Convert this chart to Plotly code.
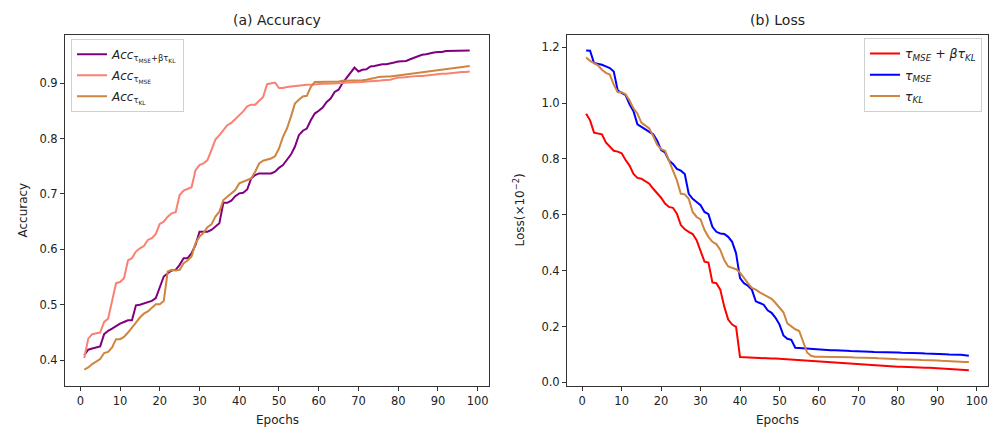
import plotly.graph_objects as go

epochs = list(range(1, 99))

acc_mse_kl = [0.409, 0.419, 0.421, 0.423, 0.425, 0.447, 0.453, 0.457, 0.462, 0.466,
              0.469, 0.472, 0.472, 0.499, 0.500, 0.502, 0.504, 0.507, 0.512, 0.533,
              0.551, 0.557, 0.562, 0.563, 0.572, 0.584, 0.584, 0.593, 0.608, 0.632,
              0.632, 0.632, 0.635, 0.641, 0.647, 0.684, 0.684, 0.688, 0.696, 0.701,
              0.702, 0.708, 0.728, 0.734, 0.737, 0.737, 0.737, 0.737, 0.740, 0.747,
              0.752, 0.761, 0.771, 0.785, 0.806, 0.814, 0.818, 0.833, 0.845, 0.850,
              0.856, 0.866, 0.872, 0.884, 0.888, 0.900, 0.910, 0.919, 0.928, 0.921,
              0.924, 0.925, 0.930, 0.931, 0.933, 0.934, 0.934, 0.935, 0.937, 0.939,
              0.940, 0.940, 0.943, 0.946, 0.949, 0.951, 0.952, 0.954, 0.955, 0.956,
              0.956, 0.958, 0.958, 0.958, 0.958, 0.959, 0.959, 0.959]

acc_mse = [0.404, 0.439, 0.447, 0.448, 0.450, 0.469, 0.475, 0.507, 0.539, 0.541,
           0.548, 0.580, 0.584, 0.596, 0.602, 0.606, 0.617, 0.620, 0.628, 0.646,
           0.650, 0.659, 0.665, 0.667, 0.698, 0.706, 0.709, 0.712, 0.743, 0.752,
           0.755, 0.761, 0.779, 0.798, 0.806, 0.815, 0.824, 0.828, 0.835, 0.843,
           0.849, 0.858, 0.861, 0.861, 0.869, 0.875, 0.898, 0.900, 0.901, 0.891,
           0.891, 0.893, 0.894, 0.895, 0.896, 0.896, 0.897, 0.897, 0.898, 0.898,
           0.899, 0.899, 0.899, 0.900, 0.900, 0.900, 0.901, 0.901, 0.902, 0.902,
           0.902, 0.903, 0.903, 0.904, 0.904, 0.905, 0.905, 0.906, 0.908, 0.910,
           0.910, 0.911, 0.911, 0.912, 0.913, 0.913, 0.914, 0.915, 0.915, 0.916,
           0.917, 0.917, 0.918, 0.918, 0.919, 0.920, 0.920, 0.921]

acc_kl = [0.383, 0.387, 0.393, 0.397, 0.402, 0.413, 0.415, 0.423, 0.438, 0.438,
          0.442, 0.450, 0.460, 0.468, 0.477, 0.484, 0.488, 0.495, 0.501, 0.501,
          0.507, 0.560, 0.563, 0.562, 0.563, 0.575, 0.580, 0.587, 0.611, 0.623,
          0.630, 0.640, 0.645, 0.659, 0.668, 0.689, 0.695, 0.700, 0.707, 0.719,
          0.722, 0.724, 0.728, 0.740, 0.755, 0.760, 0.762, 0.764, 0.768, 0.782,
          0.803, 0.818, 0.839, 0.863, 0.870, 0.876, 0.877, 0.893, 0.902, 0.902,
          0.902, 0.902, 0.903, 0.903, 0.903, 0.904, 0.904, 0.904, 0.905, 0.905,
          0.905, 0.906, 0.907, 0.909, 0.911, 0.912, 0.912, 0.912, 0.913, 0.913,
          0.914, 0.915, 0.916, 0.917, 0.919, 0.919, 0.920, 0.921, 0.922, 0.924,
          0.924, 0.925, 0.927, 0.927, 0.928, 0.929, 0.931, 0.931]

loss_mse_kl = [0.962, 0.938, 0.894, 0.891, 0.888, 0.859, 0.843, 0.829, 0.826, 0.820,
               0.796, 0.776, 0.746, 0.732, 0.729, 0.720, 0.711, 0.693, 0.678, 0.661,
               0.640, 0.628, 0.625, 0.604, 0.563, 0.548, 0.539, 0.531, 0.509, 0.474,
               0.432, 0.429, 0.358, 0.355, 0.332, 0.272, 0.225, 0.207, 0.199, 0.091,
               0.090, 0.090, 0.089, 0.089, 0.088, 0.087, 0.086, 0.085, 0.085, 0.084,
               0.083, 0.082, 0.082, 0.081, 0.080, 0.079, 0.078, 0.077, 0.076, 0.075,
               0.074, 0.073, 0.072, 0.072, 0.071, 0.070, 0.069, 0.067, 0.066, 0.064,
               0.063, 0.063, 0.062, 0.061, 0.060, 0.060, 0.059, 0.058, 0.057, 0.056,
               0.056, 0.055, 0.055, 0.054, 0.053, 0.053, 0.052, 0.052, 0.051, 0.051,
               0.051, 0.050, 0.048, 0.047, 0.046, 0.045, 0.044, 0.043]

loss_mse = [1.188, 1.187, 1.143, 1.140, 1.137, 1.131, 1.125, 1.113, 1.045, 1.036,
            1.028, 0.995, 0.971, 0.924, 0.915, 0.906, 0.900, 0.888, 0.865, 0.832,
            0.823, 0.794, 0.782, 0.764, 0.758, 0.746, 0.675, 0.657, 0.646, 0.634,
            0.610, 0.602, 0.557, 0.539, 0.533, 0.531, 0.521, 0.503, 0.462, 0.373,
            0.355, 0.346, 0.332, 0.290, 0.284, 0.278, 0.258, 0.249, 0.231, 0.207,
            0.168, 0.156, 0.152, 0.124, 0.123, 0.122, 0.121, 0.118, 0.117, 0.116,
            0.116, 0.116, 0.115, 0.115, 0.115, 0.114, 0.113, 0.112, 0.112, 0.111,
            0.111, 0.110, 0.110, 0.109, 0.109, 0.109, 0.108, 0.108, 0.107, 0.107,
            0.106, 0.106, 0.105, 0.105, 0.104, 0.104, 0.103, 0.103, 0.102, 0.102,
            0.101, 0.101, 0.100, 0.100, 0.100, 0.099, 0.097, 0.095]

loss_kl = [1.163, 1.151, 1.143, 1.135, 1.119, 1.108, 1.102, 1.066, 1.039, 1.039,
           1.031, 1.009, 0.981, 0.962, 0.930, 0.918, 0.909, 0.882, 0.851, 0.835,
           0.829, 0.794, 0.758, 0.723, 0.675, 0.673, 0.657, 0.610, 0.592, 0.583,
           0.545, 0.521, 0.503, 0.495, 0.474, 0.438, 0.415, 0.409, 0.405, 0.393,
           0.373, 0.355, 0.338, 0.332, 0.322, 0.314, 0.306, 0.299, 0.284, 0.267,
           0.251, 0.211, 0.201, 0.190, 0.184, 0.148, 0.107, 0.095, 0.092, 0.092,
           0.092, 0.092, 0.091, 0.091, 0.091, 0.090, 0.090, 0.090, 0.089, 0.089,
           0.088, 0.088, 0.088, 0.087, 0.086, 0.086, 0.085, 0.084, 0.084, 0.083,
           0.083, 0.082, 0.082, 0.081, 0.081, 0.080, 0.080, 0.079, 0.079, 0.078,
           0.077, 0.076, 0.075, 0.074, 0.073, 0.073, 0.073, 0.073]

x_ticks = [0, 10, 20, 30, 40, 50, 60, 70, 80, 90, 100]
acc_ticks = [0.4, 0.5, 0.6, 0.7, 0.8, 0.9]
loss_ticks = [0.0, 0.2, 0.4, 0.6, 0.8, 1.0, 1.2]

W, H = 998, 427
OFF = 8  # page body margin
FONT = "DejaVu Sans"
TXT = "#222"


def px(x):
    return (x - OFF) / W


def py(y):
    return 1 - (y - OFF) / H


fig = go.Figure()

lw = 2
specs = [
    (acc_mse_kl, "#800080", "<i>Acc</i><sub>τ<sub>MSE</sub>+βτ<sub>KL</sub></sub>", "x", "y", "legend", "a1"),
    (acc_mse, "#fa8072", "<i>Acc</i><sub>τ<sub>MSE</sub></sub>", "x", "y", "legend", "a2"),
    (acc_kl, "#cd853f", "<i>Acc</i><sub>τ<sub>KL</sub></sub>", "x", "y", "legend", "a3"),
    (loss_mse_kl, "#ff0000", "<i>τ<sub>MSE</sub></i> + <i>βτ<sub>KL</sub></i>", "x2", "y2", "legend2", "b1"),
    (loss_mse, "#0000ff", "<i>τ<sub>MSE</sub></i>", "x2", "y2", "legend2", "b2"),
    (loss_kl, "#cd853f", "<i>τ<sub>KL</sub></i>", "x2", "y2", "legend2", "b3"),
]
for ys, col, name, xa, ya, lg, grp in specs:
    fig.add_trace(go.Scatter(x=epochs, y=ys, mode="lines", line=dict(color=col, width=lw),
                             name=name, xaxis=xa, yaxis=ya, legend=lg, legendgroup=grp))

axis_common = dict(showline=True, linecolor="#333", linewidth=1, mirror=True,
                   ticks="outside", ticklen=4, tickwidth=1, tickcolor="#333",
                   showgrid=False, zeroline=False,
                   tickfont=dict(family=FONT, size=11.5, color=TXT))

fig.update_layout(
    width=W, height=H,
    margin=dict(l=0, r=0, t=0, b=0),
    paper_bgcolor="white", plot_bgcolor="white",
    font=dict(family=FONT, size=11, color=TXT),
    xaxis=dict(domain=[px(65), px(489)], range=[-3.85, 102.85], tickvals=x_ticks,
               anchor="y", **axis_common),
    yaxis=dict(domain=[py(389), py(35)], range=[0.3529, 0.9871], tickvals=acc_ticks,
               tickformat=".1f", anchor="x", **axis_common),
    xaxis2=dict(domain=[px(567), px(988)], range=[-3.85, 102.85], tickvals=x_ticks,
                anchor="y2", **axis_common),
    yaxis2=dict(domain=[py(389), py(35)], range=[-0.0142, 1.2442], tickvals=loss_ticks,
                tickformat=".1f", anchor="x2", **axis_common),
    legend=dict(x=px(71), y=py(39), xanchor="left", yanchor="top",
                bgcolor="rgba(255,255,255,0.8)", bordercolor="#d0d0d0", borderwidth=1,
                font=dict(family=FONT, size=12, color=TXT), tracegroupgap=2,
                itemwidth=30),
    legend2=dict(x=px(982), y=py(38), xanchor="right", yanchor="top",
                 bgcolor="rgba(255,255,255,0.8)", bordercolor="#d0d0d0", borderwidth=1,
                 font=dict(family=FONT, size=12.5, color=TXT), tracegroupgap=2,
                 itemwidth=30),
    annotations=[
        dict(text="(a) Accuracy", x=px(277), y=py(20), xref="paper", yref="paper",
             showarrow=False, font=dict(family=FONT, size=14, color=TXT),
             xanchor="center", yanchor="middle"),
        dict(text="(b) Loss", x=px(777), y=py(20), xref="paper", yref="paper",
             showarrow=False, font=dict(family=FONT, size=14, color=TXT),
             xanchor="center", yanchor="middle"),
        dict(text="Epochs", x=px(277), y=py(414), xref="paper", yref="paper",
             showarrow=False, font=dict(family=FONT, size=12, color=TXT),
             xanchor="center", yanchor="top"),
        dict(text="Epochs", x=px(777), y=py(414), xref="paper", yref="paper",
             showarrow=False, font=dict(family=FONT, size=12, color=TXT),
             xanchor="center", yanchor="top"),
        dict(text="Accuracy", x=px(23), y=py(212), xref="paper", yref="paper",
             showarrow=False, textangle=-90, font=dict(family=FONT, size=12, color=TXT),
             xanchor="center", yanchor="middle"),
        dict(text="Loss(×10<sup>−2</sup>)", x=px(519), y=py(212), xref="paper", yref="paper",
             showarrow=False, textangle=-90, font=dict(family=FONT, size=12, color=TXT),
             xanchor="center", yanchor="middle"),
    ],
)

fig.write_html("out.html")
